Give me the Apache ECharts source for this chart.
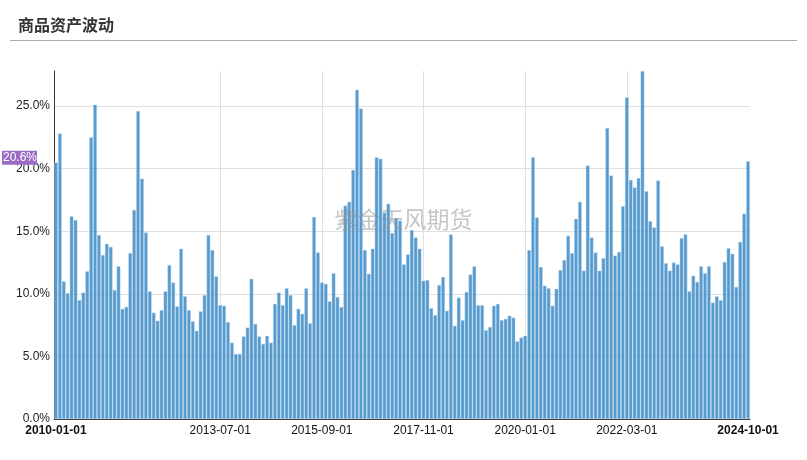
<!DOCTYPE html>
<html>
<head>
<meta charset="utf-8">
<script src="https://cdn.jsdelivr.net/npm/echarts@6/dist/echarts.min.js"></script>
<style>html,body{margin:0;padding:0;background:#fff;}#c{width:807px;height:460px;}</style>
</head>
<body>
<div id="c"></div>
<script>
// Monthly categories 2010-01 .. 2024-10
var categories = [];
for (var y = 2010; y <= 2024; y++) {
  for (var m = 1; m <= 12; m++) {
    if (y === 2024 && m > 10) break;
    categories.push(y + '-' + (m < 10 ? '0' + m : m) + '-01');
  }
}
// values (%)
var vals2010 = [20.5,22.8,11.0,10.05,16.2,15.9,9.5,10.1,11.8,22.5,25.1,14.7,13.1,14.0,13.75,10.3,12.2,8.8,8.96,13.25,16.7,24.6,19.2,14.9,10.2,8.5,7.85,8.7,10.2,12.3,10.9,9.0];
var vals2012 = [13.6,9.8,8.7,7.8,7.05,8.6,9.9,14.7,13.5,11.4,9.1,9.05,7.75,6.1,5.2,5.2,6.6,7.3,11.2,7.6,6.6,6.0,6.65,6.1,9.2,10.1,9.1,10.45,9.9,7.5,8.8];
var vals2015 = [8.4,10.45,7.65,16.15,13.3,10.9,10.8,9.4,11.65,9.75,8.95,17.05,17.35,19.9,26.3,24.8,13.5,11.6,13.6,20.9,20.8,16.5,17.2,14.85,16.05,15.85,12.35,13.15,15.1,14.5,13.6];
var vals2017 = [11.05,11.1,8.85,8.3,10.7,11.35,8.65,14.75,7.45,9.7,7.9,10.15,11.55,12.2,9.1,9.1,7.1,7.35,9.05,9.2,7.9,8.0,8.25,8.1,6.2,6.5,6.65,13.5,20.9,16.1,12.15];
var vals2020 = [10.65,10.45,9.05,10.4,11.9,12.7,14.65,13.25,16.0,17.35,11.85,20.25,14.5,13.3,11.85,12.85,23.25,19.45,13.05,13.35,17.0,25.7,19.1,18.5,19.25,27.8,18.2,15.8,15.3,19.05];
var vals2022 = [13.8,12.45,11.85,12.5,12.35,14.45,14.75,10.2,11.45,10.95,12.2,11.65,12.2,9.3,9.8,9.5,12.55,13.65,13.2,10.55,14.15,16.4,20.6];
var values = [].concat(vals2010, vals2012, vals2015, vals2017, vals2020, vals2022);
var labelIdx = [0, 42, 68, 94, 120, 146, 177];
var lastValue = values[values.length - 1];

var chart = echarts.init(document.getElementById('c'));
chart.setOption({
  animation: false,
  title: {
    text: '商品资产波动', left: 13, top: 12,
    textStyle: { fontSize: 16, fontWeight: 'bold', color: '#333', fontFamily: 'Noto Sans CJK SC' }
  },
  graphic: [
    { type: 'line', shape: { x1: 10, y1: 40.5, x2: 797, y2: 40.5 }, style: { stroke: '#aaa', lineWidth: 1 }, silent: true },
    { type: 'text', left: 'center', top: 208, z: 100, silent: true,
      style: { text: '紫金天风期货', fontSize: 23, fill: 'rgba(150,150,150,0.55)', fontFamily: 'Noto Sans CJK SC' } }
  ],
  grid: { left: 54, right: 57, top: 71, bottom: 41, containLabel: false },
  xAxis: {
    type: 'category',
    data: categories,
    boundaryGap: true,
    axisLine: { show: true, lineStyle: { color: '#333' } },
    axisTick: { show: false },
    axisLabel: {
      interval: function (i) { return labelIdx.indexOf(i) >= 0; },
      color: '#111', fontSize: 12, margin: 6, fontFamily: 'Liberation Sans',
      formatter: function (v, i) {
        return (i === 0 || i === categories.length - 1) ? '{b|' + v + '}' : v;
      },
      rich: { b: { fontWeight: 'bold', fontSize: 12, color: '#111', fontFamily: 'Liberation Sans' } }
    },
    splitLine: {
      show: true,
      alignWithLabel: true,
      interval: function (i) { return i !== 0 && i !== categories.length - 1 && labelIdx.indexOf(i) >= 0; },
      lineStyle: { color: '#e0e0e0' }
    }
  },
  yAxis: {
    type: 'value',
    min: 0, max: 'dataMax', interval: 5,
    axisLine: { show: true, lineStyle: { color: '#333' } },
    axisTick: { show: false },
    axisLabel: {
      color: '#222', fontSize: 12, margin: 4, fontFamily: 'Liberation Sans', showMaxLabel: false,
      formatter: function (v) { return v.toFixed(1) + '%'; }
    },
    splitLine: { show: true, showMaxLine: false, lineStyle: { color: '#e0e0e0' } }
  },
  series: [{
    type: 'bar',
    data: values,
    barCategoryGap: '5%',
    itemStyle: { color: 'rgba(55,135,196,0.84)', borderColor: 'rgba(185,215,240,0.9)', borderWidth: 0.5 },
    markLine: {
      silent: true,
      symbol: 'none',
      lineStyle: { color: 'rgba(0,0,0,0)', width: 0 },
      data: [{ yAxis: lastValue }],
      label: {
        show: true,
        position: 'start', distance: 17,
        formatter: function (p) { return '{a|' + p.value.toFixed(1) + '%}\n{s| }'; },
        rich: {
          a: { color: '#fff', backgroundColor: '#9b6bc6', fontSize: 12, padding: [1, 0, 1, 1], fontFamily: 'Liberation Sans' },
          s: { height: 7, fontSize: 6 }
        }
      }
    }
  }]
});
</script>
</body>
</html>
